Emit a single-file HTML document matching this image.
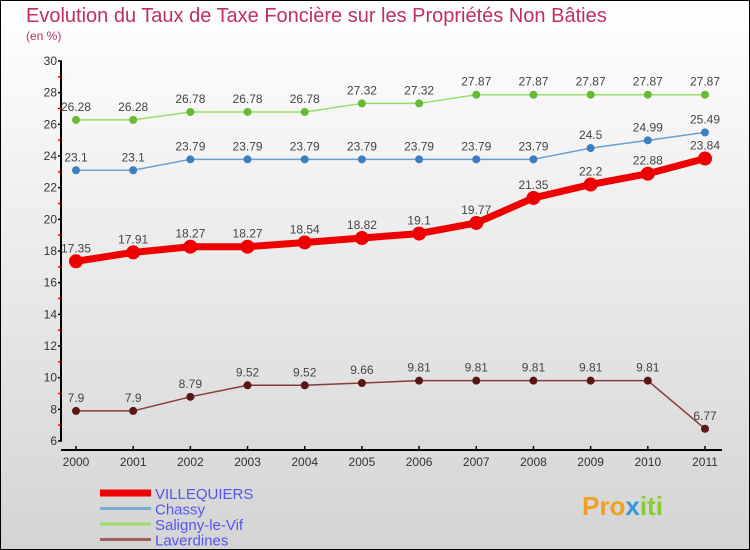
<!DOCTYPE html>
<html><head><meta charset="utf-8"><style>
body{margin:0}
svg{display:block;font-family:"Liberation Sans",sans-serif}
</style></head><body>
<svg id="c" width="750" height="550" viewBox="0 0 750 550">
<defs><linearGradient id="bg" x1="0" y1="0" x2="0" y2="1"><stop offset="0" stop-color="#ffffff"/><stop offset="1" stop-color="#d4d4d4"/></linearGradient>
<filter id="sh" x="-5%" y="-20%" width="110%" height="140%" filterUnits="userSpaceOnUse"><feDropShadow dx="1" dy="1" stdDeviation="0.8" flood-opacity="0.35"/></filter></defs>
<rect x="0.5" y="0.5" width="749" height="549" fill="url(#bg)" stroke="#000"/>
<text x="26" y="22" font-size="20" fill="#c0305a">Evolution du Taux de Taxe Foncière sur les Propriétés Non Bâties</text>
<text x="26" y="40" font-size="12" fill="#c0305a">(en %)</text>
<g id="axes"></g><g id="series"></g><g id="legend"></g>
<text x="582" y="515" font-size="26" font-weight="bold" fill="#f0a020">Pro<tspan fill="#3399dd">x</tspan><tspan fill="#88cc33">iti</tspan></text>
</svg>
<script>
const years=[2000,2001,2002,2003,2004,2005,2006,2007,2008,2009,2010,2011];
const yTicks=[6,8,10,12,14,16,18,20,22,24,26,28,30];
const villequiers=[17.35,17.91,18.27,18.27,18.54,18.82,19.1,19.77,21.35,22.2,22.88,23.84];
const chassy=[23.1,23.1,23.79,23.79,23.79,23.79,23.79,23.79,23.79,24.5,24.99,25.49];
const saligny=[26.28,26.28,26.78,26.78,26.78,27.32,27.32,27.87,27.87,27.87,27.87,27.87];
const laverdines=[7.9,7.9,8.79,9.52,9.52,9.66,9.81,9.81,9.81,9.81,9.81,6.77];
const NS='http://www.w3.org/2000/svg';
const X=i=>76+i*(705-76)/11;
const Y=v=>441-(v-6)*(441-61)/24;
function mk(t,a,p){const e=document.createElementNS(NS,t);for(const k in a)e.setAttribute(k,a[k]);p.appendChild(e);return e;}
const ax=document.getElementById('axes');
let l=mk('line',{x1:61,y1:61,x2:61,y2:441,stroke:'#000','stroke-width':2},ax);


l=mk('line',{x1:61,y1:450,x2:722,y2:450,stroke:'#000','stroke-width':2},ax);


yTicks.forEach((v,i)=>{
 mk('line',{x1:58,y1:Y(v),x2:62,y2:Y(v),stroke:'#000','stroke-width':1.5},ax);
 if(i<yTicks.length-1)mk('line',{x1:58,y1:Y(v+1),x2:61,y2:Y(v+1),stroke:'#e00','stroke-width':1.5},ax);
 const t=mk('text',{x:57,y:Y(v)+4,'font-size':12,'text-anchor':'end',fill:'#333'},ax);t.textContent=v;
 
 
});
years.forEach((y,i)=>{
 mk('line',{x1:X(i),y1:446,x2:X(i),y2:450,stroke:'#000','stroke-width':1.5},ax);
 const t=mk('text',{x:X(i),y:466,'font-size':12,'text-anchor':'middle',fill:'#333'},ax);t.textContent=y;
 
 
});
const sg=document.getElementById('series');
function series(data,name,color,dot,w,r,fs){
 const g=mk('g',{},sg);
 
 
 const p=mk('polyline',{points:data.map((v,i)=>X(i)+','+Y(v)).join(' '),fill:'none',stroke:color,'stroke-width':w,'stroke-linejoin':'round'},g);
 
 
 data.forEach((v,i)=>{
  const c=mk('circle',{cx:X(i),cy:Y(v),r:r,fill:dot},g);
  
  
  const t=mk('text',{x:X(i),y:Y(v)-9,'font-size':fs,'text-anchor':'middle',fill:'#444'},g);t.textContent=v;
  
  
 });
}
series(laverdines,'laverdines','#8b3a3a','#5a1515',1.5,4,12);
series(saligny,'saligny','#99dd66','#66bb33',1.5,4,12);
series(chassy,'chassy','#6a9fd0','#3a7fc0',1.5,4,12);
series(villequiers,'villequiers','#ee0000','#ee0000',7,7,12);
const lg=document.getElementById('legend');
const names=['VILLEQUIERS','Chassy','Saligny-le-Vif','Laverdines'];
const cols=['#ee0000','#7aaed0','#99dd66','#a06060'];
const ws=[7,3,3,3];
names.forEach((n,i)=>{
 const y=493+i*15.5;
 const s=mk('rect',{x:100,y:y-ws[i]/2,width:51,height:ws[i],fill:cols[i]},lg);
 
 
 const t=mk('text',{x:155,y:y+6,'font-size':15,fill:'#5555ee'},lg);t.textContent=n;
 
 
});
</script>
</body></html>
